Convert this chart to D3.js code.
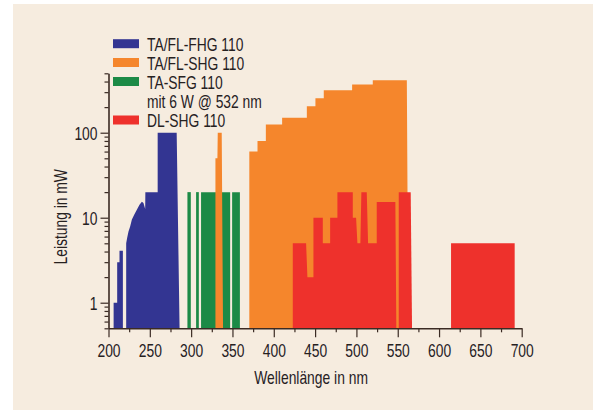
<!DOCTYPE html>
<html>
<head>
<meta charset="utf-8">
<script src="https://cdn.jsdelivr.net/npm/d3@7"></script>
<style>
  html, body { margin: 0; padding: 0; background: #fff; }
  svg text { font-family: "Liberation Sans", Arial, sans-serif; font-size: 18px; fill: #26211f; }
</style>
</head>
<body>
<svg width="593" height="410"></svg>
<script>
// series: each block is a list of [wavelength nm, power mW] vertices
var fhgBlocks = [
  [[206.2, 1], [210.5, 1], [210.5, 3], [213.3, 3], [213.3, 4.1], [217.4, 4.1]],
  [[221.4, 5], [222.6, 5.8], [224.2, 6.9], [226.2, 7.9], [228.3, 9.5], [231.1, 10.8],
   [234.3, 12.4], [237.5, 14.2], [240.4, 15.4], [242.3, 14.9], [244.4, 12.7], [244.6, 20],
   [259.5, 20], [259.5, 100], [282.5, 100], [286, 0.5]]
];
var sfgBlocks = [
  [[295.5, 20], [299.6, 20]],
  [[306, 20], [309.3, 20]],
  [[312, 20], [347.2, 20]],
  [[349.6, 20], [359, 20]]
];
var shgBlocks = [
  [[329.4, 50], [331.8, 50], [332.2, 100], [337, 100], [338.6, 0.5]],
  [[370.4, 60], [380.3, 60], [380.3, 80], [390.4, 80], [390.4, 125], [410.1, 125],
   [410.1, 150], [440, 150], [440, 205], [450.4, 205], [450.4, 255], [460.5, 255],
   [460.5, 315], [494.8, 315], [494.8, 370], [519.8, 370], [519.8, 415], [561, 415], [562.8, 0.5]]
];
var dlBlocks = [
  [[423, 5], [439.1, 5], [440.7, 2], [448, 2], [448, 10], [459.3, 10], [459.3, 5],
   [468.2, 5], [468.2, 10], [477, 10], [477, 20], [495.6, 20], [495.6, 10], [499.6, 10],
   [501.2, 5], [504.8, 5], [506, 20], [512.5, 20], [514.1, 5], [524.6, 5], [524.6, 15.3],
   [547.1, 15.3], [548.3, 0.5]],
  [[551.2, 20], [565.7, 20], [567.3, 0.5]],
  [[614.5, 5], [691.5, 5]]
];

var legendLabels = ["TA/FL-FHG 110", "TA/FL-SHG 110", "TA-SFG 110", "mit 6 W @ 532 nm", "DL-SHG 110"];
var xTicks = d3.range(200, 701, 25);
var yTicks = [0.5, 0.6, 0.7, 0.8, 0.9, 1, 2, 3, 4, 5, 6, 7, 8, 9, 10,
  20, 30, 40, 50, 60, 70, 80, 90, 100, 200, 300, 400, 500];
var yLabels = [1, 10, 100];

var colors = { fhg: "#333592", shg: "#f5862c", sfg: "#1c8a46", dl: "#ee312c" };
var narrow = 0.77; // horizontal squeeze to mimic a condensed face

var svg = d3.select("svg");

// panel background
svg.append("rect")
  .attr("x", 13).attr("y", 4)
  .attr("width", 580).attr("height", 406)
  .attr("fill", "#f6ecdf");

var x = d3.scaleLinear().domain([200, 700]).range([108.5, 521.7]);
var y = d3.scaleLog().domain([0.5, 500]).range([328.3, 73.3]);

var area = d3.area()
  .x(function(d) { return x(d[0]); })
  .y0(y(0.5))
  .y1(function(d) { return y(d[1]); });

function drawBlocks(blocks, color) {
  svg.append("g").selectAll("path")
    .data(blocks)
    .enter().append("path")
    .attr("d", area)
    .attr("fill", color);
}
drawBlocks(fhgBlocks, colors.fhg);
drawBlocks(sfgBlocks, colors.sfg);
drawBlocks(shgBlocks, colors.shg);
drawBlocks(dlBlocks, colors.dl);

// narrow text placed at (px, py)
function label(parent, px, py, str, anchor, rotate) {
  return parent.append("text")
    .attr("transform", "translate(" + px + "," + py + ")" + (rotate ? " rotate(" + rotate + ")" : "") + " scale(" + narrow + ",1)")
    .attr("text-anchor", anchor || "start")
    .text(str);
}

// x axis
var xAxis = svg.append("g")
  .attr("transform", "translate(0," + y(0.5) + ")")
  .call(d3.axisBottom(x).tickValues(xTicks).tickSizeOuter(0).tickFormat(""));
xAxis.select(".domain").attr("stroke", "#3b2b24").attr("stroke-width", 1.6);
xAxis.selectAll(".tick line")
  .attr("stroke", "#3b2b24").attr("stroke-width", 1.2)
  .attr("y2", function(d) { return d % 50 === 0 ? 9 : 4; });
xAxis.selectAll(".tick").each(function(d) {
  if (d % 50 === 0) label(d3.select(this), 0, 29, d, "middle");
});

// y axis
var yAxis = svg.append("g")
  .attr("transform", "translate(" + x(200) + ",0)")
  .call(d3.axisLeft(y).tickValues(yTicks).tickSizeOuter(0).tickFormat(""));
yAxis.select(".domain").attr("stroke", "#3b2b24").attr("stroke-width", 1.6);
yAxis.selectAll(".tick line")
  .attr("stroke", "#3b2b24").attr("stroke-width", 1.2)
  .attr("x2", function(d) { return yLabels.indexOf(d) >= 0 ? -8 : -4; });
yAxis.selectAll(".tick").each(function(d) {
  if (yLabels.indexOf(d) >= 0) label(d3.select(this), -11, 6.5, d, "end");
});

// axis titles
label(svg, (x(200) + x(700)) / 2 - 4, 384, "Wellenlänge in nm", "middle");
label(svg, 67, (y(0.5) + y(500)) / 2 + 16, "Leistung in mW", "middle", -90);

// legend
var swatchColors = [colors.fhg, colors.shg, colors.sfg, null, colors.dl];
var baselines = [50.7, 69.5, 88.5, 108, 127];
var legend = svg.append("g");
legendLabels.forEach(function(t, i) {
  if (swatchColors[i]) {
    legend.append("rect")
      .attr("x", 113).attr("y", baselines[i] - 11.5)
      .attr("width", 26).attr("height", 9)
      .attr("fill", swatchColors[i]);
  }
  label(legend, 147, baselines[i], t);
});
</script>
</body>
</html>
